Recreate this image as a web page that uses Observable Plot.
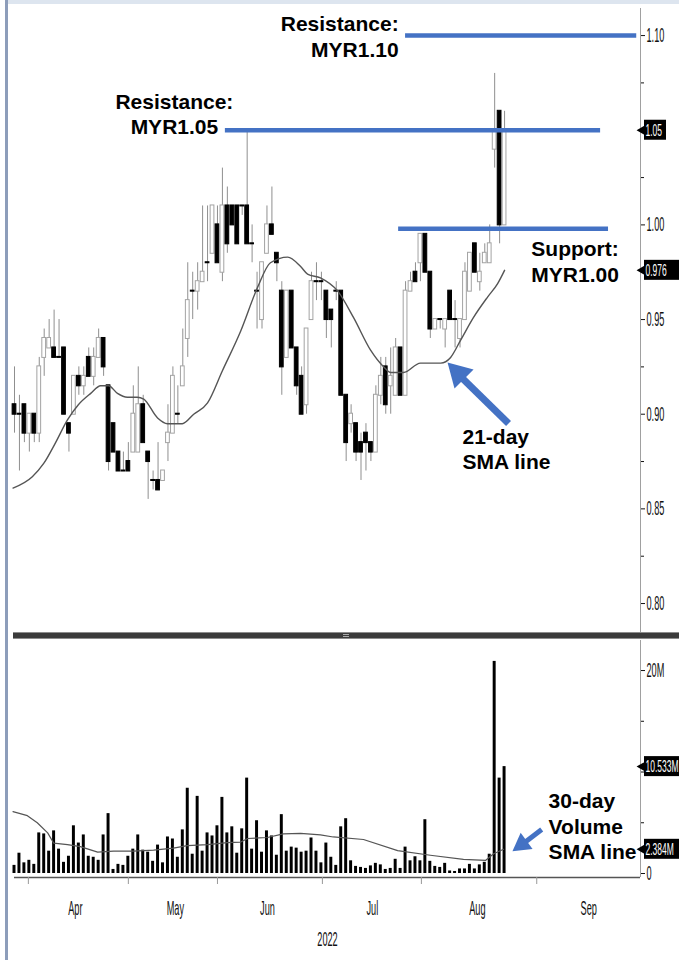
<!DOCTYPE html>
<html><head><meta charset="utf-8">
<script src="https://cdn.jsdelivr.net/npm/d3@7"></script>
<script src="https://cdn.jsdelivr.net/npm/@observablehq/plot@0.6"></script>
<style>
body{margin:0;background:#fff;}
#wrap{position:relative;width:679px;height:960px;overflow:hidden;background:#fff;}
#wrap > div.p{position:absolute;left:0;}
</style></head><body>
<div id="wrap">
  <div class="p" id="price" style="top:0"></div>
  <div class="p" id="vol" style="top:636px"></div>
  <div style="position:absolute;left:8px;top:0;width:671px;height:4px;background:#dde5ef"></div>
  <div style="position:absolute;left:13px;top:632px;width:666px;height:5px;background:#3b3b3b;border-top:1px solid #8c8c8c;border-bottom:1px solid #8c8c8c"></div>
  <div style="position:absolute;left:343px;top:634px;width:6px;height:1px;background:#aaa"></div>
  <div style="position:absolute;left:343px;top:636px;width:6px;height:1px;background:#aaa"></div>
  <div style="position:absolute;left:5px;top:0;width:3px;height:960px;background:#8d9dba"></div>
</div>
<script>
// ---------- data (MYR, trading-day index 0..99; volume in millions) ----------
const opens = [
0.905,0.90,0.905,0.89,0.90,0.89,0.93,0.935,0.935,0.93,
0.935,0.895,0.90,0.92,0.915,0.93,0.92,0.93,0.94,0.915,
0.895,0.88,0.87,0.875,0.88,0.88,0.905,0.88,0.865,0.865,
0.865,0.885,0.89,0.90,0.915,0.94,0.965,0.965,0.97,0.98,
0.985,1.00,0.975,1.01,1.01,1.01,1.01,1.01,0.99,0.965,
0.95,0.985,1.00,0.985,0.965,0.93,0.965,0.935,0.92,0.905,
0.95,0.97,0.97,0.965,0.955,0.965,0.965,0.91,0.895,0.895,
0.885,0.89,0.885,0.88,0.91,0.925,0.915,0.91,0.935,0.91,
0.965,0.975,0.98,0.995,0.975,0.945,0.95,0.945,0.965,0.95,
0.94,0.95,0.965,0.99,0.97,0.98,0.98,1.04,1.06,1.00];
const highs = [
0.925,0.91,0.905,0.90,0.90,0.93,0.945,0.95,0.955,0.95,
0.935,0.895,0.92,0.925,0.925,0.935,0.935,0.945,0.94,0.915,
0.895,0.88,0.88,0.885,0.915,0.925,0.91,0.88,0.87,0.885,
0.87,0.905,0.925,0.915,0.945,0.98,0.975,0.98,1.01,1.01,
1.01,1.01,1.03,1.02,1.01,1.01,1.01,1.05,1.00,0.975,
0.98,1.01,1.02,0.985,0.97,0.965,0.965,0.935,0.925,0.945,
0.975,0.98,0.975,0.965,0.955,0.97,0.965,0.91,0.905,0.895,
0.89,0.895,0.885,0.915,0.93,0.93,0.935,0.94,0.935,0.97,
0.975,0.98,0.995,0.995,0.975,0.95,0.95,0.95,0.965,0.96,
0.95,0.98,0.985,0.99,0.985,0.99,1.00,1.08,1.06,1.06];
const lows = [
0.89,0.87,0.885,0.88,0.885,0.885,0.92,0.935,0.93,0.93,
0.90,0.88,0.90,0.91,0.91,0.92,0.915,0.93,0.92,0.87,
0.88,0.87,0.87,0.87,0.88,0.88,0.885,0.855,0.86,0.86,
0.865,0.875,0.89,0.895,0.915,0.93,0.95,0.955,0.97,0.97,
0.985,0.98,0.97,0.985,1.00,0.99,1.005,0.99,0.98,0.945,
0.945,0.985,0.995,0.97,0.91,0.93,0.935,0.91,0.90,0.90,
0.95,0.96,0.96,0.94,0.935,0.96,0.91,0.875,0.89,0.875,
0.865,0.87,0.875,0.88,0.905,0.90,0.90,0.91,0.91,0.91,
0.965,0.97,0.97,0.975,0.94,0.945,0.945,0.935,0.95,0.935,
0.935,0.95,0.965,0.975,0.965,0.98,0.98,1.03,0.99,1.00];
const closes = [
0.90,0.90,0.89,0.90,0.89,0.925,0.94,0.94,0.93,0.93,
0.90,0.89,0.92,0.915,0.92,0.92,0.93,0.94,0.925,0.875,
0.88,0.87,0.87,0.87,0.90,0.905,0.885,0.875,0.865,0.86,
0.87,0.89,0.92,0.90,0.925,0.96,0.965,0.97,0.975,0.98,
1.01,0.98,1.01,0.99,1.00,0.99,1.01,0.99,0.99,0.965,
0.98,1.00,0.995,0.98,0.925,0.965,0.935,0.915,0.90,0.945,
0.97,0.97,0.97,0.95,0.95,0.965,0.91,0.885,0.90,0.88,
0.88,0.885,0.88,0.91,0.92,0.905,0.92,0.935,0.91,0.965,
0.97,0.97,0.995,0.975,0.945,0.95,0.95,0.95,0.95,0.95,
0.95,0.975,0.985,0.975,0.975,0.985,0.99,1.05,1.00,1.05];
const volumes = [
0.8,2.0,1.05,1.3,0.9,4.0,3.9,2.2,4.2,2.4,
1.1,1.7,4.7,3.0,3.8,1.7,1.6,1.3,3.8,5.9,
0.4,0.9,0.8,1.7,2.4,3.8,2.3,2.1,1.2,2.8,
1.05,3.6,3.4,1.6,4.3,8.4,1.9,7.6,2.2,4.0,
3.7,4.7,7.5,4.0,4.6,2.0,4.4,9.4,2.4,5.2,
2.1,4.2,3.7,1.8,5.8,2.2,2.6,2.5,2.1,2.2,
3.5,2.2,1.05,3.0,1.6,0.8,4.6,5.4,1.25,0.7,
0.6,0.5,0.75,1.0,0.85,0.4,0.5,1.4,0.5,2.6,
1.25,1.65,1.25,5.3,1.2,0.7,0.6,1.0,0.25,0.2,
0.45,0.45,0.9,0.45,0.85,1.1,1.9,20.9,9.4,10.533];
// 21-day SMA of price, read at points along the line
const smaIdx = [-0.3,3.6,5.9,8.3,10.7,12.9,15.4,17.4,19,20.8,22.8,24.8,26.1,28.9,30.9,32.1,33.9,36.2,39,42,45.7,49.1,51.7,55.2,57.8,59.2,61.8,65.3,68.5,71.9,74.6,76,78.6,82,86.1,88.1,90.1,92.7,95.6,97.6,99];
const smaVal = [0.861,0.867,0.874,0.885,0.897,0.905,0.911,0.915,0.915,0.911,0.909,0.909,0.908,0.898,0.895,0.895,0.895,0.900,0.906,0.923,0.944,0.967,0.980,0.983,0.978,0.974,0.972,0.965,0.951,0.934,0.925,0.922,0.922,0.927,0.927,0.930,0.939,0.951,0.962,0.969,0.976];
// 30-day SMA of volume (millions)
const vsmaIdx = [-0.3,2.6,4.6,6.7,7.9,10.7,13.3,16.8,20,24,28.1,32.1,34.9,39,43,45.7,47.1,51.1,54.3,57.8,61.8,64.4,70.5,77.4,84,90.7,95.2,96.8,98.8];
const vsmaVal = [6.1,5.7,5.0,4.0,3.0,2.85,2.65,2.1,2.2,2.2,2.3,2.5,2.75,2.85,3.05,3.1,3.45,3.55,3.9,3.95,3.8,3.6,3.35,2.25,1.8,1.4,1.3,1.95,2.384];
// axes (1.05 and 10M labels are covered by the value boxes, so only their ticks are drawn)
const priceTicks = [0.80,0.85,0.90,0.95,1.00,1.10];
const priceMinor = [0.825,0.875,0.925,0.975,1.025,1.05,1.075];
const volTicks = [0,20];
const volMinor = [5,10,15];
const monthNames = ["Apr","May","Jun","Jul","Aug","Sep"];
const monthStarts = [2.8,23,41,62.2,82.2,105.5];
const monthMids = [12.3,32.5,51.1,72.3,93.5,116];
const yearLabel = "2022";
// annotations
const levels = [{price:1.10, from:79.0, to:125.7},{price:1.05, from:42.6, to:118.4},{price:0.998, from:77.6, to:120.0}];
const lastPrice = {v:1.05, label:"1.05"};
const smaLast = {v:0.976, label:"0.976"};
const lastVol = {v:10.533, label:"10.533M"};
const volSmaLast = {v:2.384, label:"2.384M"};

// ---------- drawing ----------
const axisFont = '"Liberation Sans",Arial,sans-serif';
const bold = '"Liberation Sans",Arial,sans-serif';
const blue = "#4472C4";
const xDomain = [0, 126.46];
const xMax = xDomain[1];
const priceDomain = [0.7847, 1.1143];
const volDomain = [-0.394, 22.96];

const candles = opens.map((o,i)=>({i, open:o, high:highs[i], low:lows[i], close:closes[i], up: closes[i] > o}));
const vols = volumes.map((v,i)=>({i, v}));
const sma = smaIdx.map((x,k)=>({x, y:smaVal[k]}));
const vsma = vsmaIdx.map((x,k)=>({x, y:vsmaVal[k]}));

function valueBox(m, w) {
  return [
    Plot.rect([m], {x1: ()=>xMax, x2: ()=>xMax, y1: d=>d.v, y2: d=>d.v, insetLeft: 4, insetRight: -(4+w), insetTop: -10, insetBottom: -10, fill: "#000"}),
    Plot.dot([m], {x: ()=>xMax, y: d=>d.v, symbol: "triangle", r: 3.5, rotate: -90, dx: 1.5, fill: "#000"}),
    Plot.text([m], {x: ()=>xMax, y: d=>d.v, text: d=>d.label, dx: 5, textAnchor: "start", fill: "#fff", fontSize: 17})
  ];
}
const note = (data, anchor, lh) => Plot.text(data, {x: "x", y: "y", text: "text", textAnchor: anchor, lineAnchor: "middle", lineHeight: lh, fontSize: 21, fontWeight: "bold", fontFamily: bold, fill: "#000"});

// Bloomberg-style condensed labels: tall glyphs squeezed horizontally about their anchor
function condense(svg) {
  svg.querySelectorAll("text").forEach(t => {
    if (t.closest('[font-weight="bold"]')) return;
    const box = !!t.closest('[fill="#fff"]');
    t.style.fontSize = box ? "17px" : "20px";
    t.style.fontFamily = axisFont;
    const f = box ? 0.5 : 0.46;
    const tr = t.getAttribute("transform") || "";
    t.setAttribute("transform", (tr + ` scale(${f},1)`).trim());
  });
}

const pricePlot = Plot.plot({
  width: 679, height: 632, marginTop: 8, marginBottom: 0, marginLeft: 14, marginRight: 39,
  x: {domain: xDomain, axis: null},
  y: {domain: priceDomain, axis: null},
  style: {fontFamily: axisFont, fontSize: "20px", color: "#111", background: "transparent", overflow: "visible"},
  marks: [
    Plot.ruleX([xMax], {stroke: "#a0a0a0"}),
    Plot.axisY(priceTicks, {anchor: "right", tickFormat: ".2f", tickSize: 4, tickPadding: 2, label: null, fontSize: 20}),
    Plot.axisY(priceMinor, {anchor: "right", tickFormat: () => "", tickSize: 3, label: null}),
    Plot.ruleX(candles, {x: "i", y1: "low", y2: "high", stroke: "#8f8f8f", strokeWidth: 1}),
    Plot.rect(candles, {x1: d=>d.i-0.38, x2: d=>d.i+0.38, y1: "open", y2: "close", insetTop: -0.5, insetBottom: -0.5,
      fill: d=>d.up ? "#ffffff" : "#000000", stroke: d=>d.up ? "#a3a3a3" : "#000000", strokeWidth: 1}),
    Plot.line(sma, {x: "x", y: "y", stroke: "#555", strokeWidth: 1.4, curve: "monotone-x"}),
    Plot.ruleY(levels, {y: "price", x1: "from", x2: "to", stroke: blue, strokeWidth: 4.5}),
    note([{x: 77.6, y: 1.10, text: "Resistance:\nMYR1.10"}], "end", 1.24),
    note([{x: 32.3, y: 1.059, text: "Resistance:\nMYR1.05"}], "middle", 1.2),
    note([{x: 104.4, y: 0.981, text: "Support:\nMYR1.00"}, {x: 90.5, y: 0.882, text: "21-day\nSMA line"}], "start", 1.2),
    Plot.link([{x1: 99.8, y1: 0.8951, x2: 89.9, y2: 0.9205}], {x1: "x1", y1: "y1", x2: "x2", y2: "y2", stroke: blue, strokeWidth: 7}),
    Plot.dot([{x: 89.7, y: 0.9215}], {x: "x", y: "y", symbol: "triangle", r: 10, rotate: -45, fill: blue}),
    ...valueBox(lastPrice, 22),
    ...valueBox(smaLast, 40)
  ]
});
document.getElementById("price").append(pricePlot);
condense(pricePlot);

const volPlot = Plot.plot({
  width: 679, height: 324, marginTop: 4, marginBottom: 83, marginLeft: 14, marginRight: 39,
  x: {domain: xDomain, axis: null},
  y: {domain: volDomain, axis: null},
  style: {fontFamily: axisFont, fontSize: "20px", color: "#111", background: "transparent", overflow: "visible"},
  marks: [
    Plot.ruleX([xMax], {stroke: "#a0a0a0"}),
    Plot.axisY(volTicks, {anchor: "right", tickFormat: d => d === 0 ? "0" : d + "M", tickSize: 4, tickPadding: 2, label: null, fontSize: 20}),
    Plot.axisY(volMinor, {anchor: "right", tickFormat: () => "", tickSize: 3, label: null}),
    Plot.rect(vols, {x1: d=>d.i-0.3, x2: d=>d.i+0.3, y1: 0, y2: "v", fill: "#000"}),
    Plot.line(vsma, {x: "x", y: "y", stroke: "#555", strokeWidth: 1.2}),
    Plot.ruleY([volDomain[0]], {stroke: "#555", strokeWidth: 1.5}),
    Plot.axisX(monthStarts, {anchor: "bottom", tickFormat: () => "", tickSize: 7, stroke: "#999", label: null}),
    Plot.axisX(monthMids, {anchor: "bottom", tickFormat: d => monthNames[monthMids.indexOf(d)], tickSize: 0, tickPadding: 23, fontSize: 20, label: null}),
    Plot.text([yearLabel], {frameAnchor: "bottom", dy: 68, fontSize: 20, fill: "#111"}),
    note([{x: 107.9, y: 4.73, text: "30-day\nVolume\nSMA line"}], "start", 1.2),
    Plot.link([{x1: 106.5, y1: 4.33, x2: 102.8, y2: 2.95}], {x1: "x1", y1: "y1", x2: "x2", y2: "y2", stroke: blue, strokeWidth: 5}),
    Plot.dot([{x: 102.5, y: 2.87}], {x: "x", y: "y", symbol: "triangle", r: 7.5, rotate: 234, fill: blue}),
    ...valueBox(lastVol, 40),
    ...valueBox(volSmaLast, 40)
  ]
});
document.getElementById("vol").append(volPlot);
condense(volPlot);
</script>
</body></html>
